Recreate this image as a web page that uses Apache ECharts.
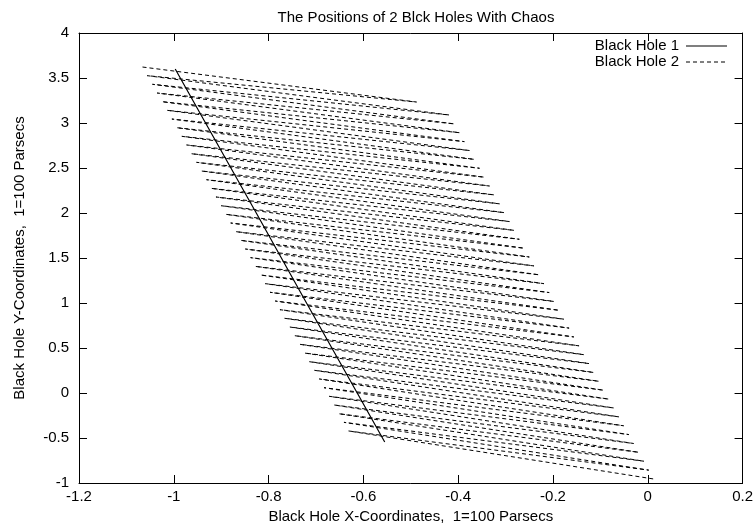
<!DOCTYPE html>
<html><head><meta charset="utf-8">
<script src="https://cdn.jsdelivr.net/npm/echarts@6/dist/echarts.min.js"></script>
<style>html,body{margin:0;padding:0;background:#fff}#c{width:756px;height:529px}</style>
</head><body><div id="c"></div>
<script>
// Black Hole 1 (solid)
const bh1X = [-0.997, -0.933, -0.826, -0.720, -0.613, -0.555];
const bh1Y = [3.600, 3.000, 2.000, 1.000, 0.000, -0.544];
// Black Hole 2 (dashed) zigzag vertices: left-edge and right-edge turning points
const bh2LeftX = [-1.066,-1.056,-1.045,-1.035,-1.025,-1.014,-1.004,-0.994,-0.983,-0.973,-0.963,-0.952,-0.942,-0.931,-0.921,-0.911,-0.900,-0.890,-0.880,-0.869,-0.859,-0.849,-0.838,-0.828,-0.817,-0.807,-0.797,-0.786,-0.776,-0.766,-0.755,-0.745,-0.734,-0.724,-0.714,-0.703,-0.693,-0.683,-0.672,-0.662,-0.652,-0.641,-0.631];
const bh2LeftY = [3.622,3.526,3.430,3.333,3.237,3.141,3.044,2.948,2.852,2.756,2.659,2.563,2.467,2.370,2.274,2.178,2.081,1.985,1.889,1.793,1.696,1.600,1.504,1.407,1.311,1.215,1.119,1.022,0.926,0.830,0.733,0.637,0.541,0.444,0.348,0.252,0.156,0.059,-0.037,-0.133,-0.230,-0.326,-0.422];
const bh2RightX = [-0.488,-0.419,-0.408,-0.397,-0.387,-0.376,-0.366,-0.355,-0.345,-0.334,-0.324,-0.313,-0.303,-0.292,-0.282,-0.271,-0.261,-0.250,-0.240,-0.229,-0.219,-0.208,-0.198,-0.187,-0.177,-0.166,-0.156,-0.145,-0.135,-0.124,-0.114,-0.103,-0.093,-0.082,-0.072,-0.061,-0.051,-0.040,-0.030,-0.019,-0.008,0.002,0.013];
const bh2RightY = [3.233,3.089,2.990,2.892,2.793,2.694,2.596,2.497,2.398,2.300,2.201,2.102,2.004,1.905,1.807,1.708,1.609,1.511,1.412,1.313,1.215,1.116,1.017,0.919,0.820,0.721,0.623,0.524,0.426,0.327,0.228,0.130,0.031,-0.068,-0.166,-0.265,-0.364,-0.462,-0.561,-0.659,-0.758,-0.857,-0.956];
const seriesNames = ['Black Hole 1', 'Black Hole 2'];
const xMin = -1.2, xMax = 0.2, xStep = 0.2;
const yMin = -1, yMax = 4, yStep = 0.5;
const titleText = 'The Positions of 2 Blck Holes With Chaos';
const xName = 'Black Hole X-Coordinates,  1=100 Parsecs';
const yName = 'Black Hole Y-Coordinates,  1=100 Parsecs';

const bh1 = bh1X.map((x, i) => [x, bh1Y[i]]);
const bh2 = [];
for (let i = 0; i < bh2LeftX.length; i++) {
  bh2.push([bh2LeftX[i], bh2LeftY[i]]);
  bh2.push([bh2RightX[i], bh2RightY[i]]);
}

const FONT = 'Liberation Sans, Arial, sans-serif';
const FS = 15;
const axisCommon = {
  type: 'value',
  axisLine: { show: true, onZero: false, lineStyle: { color: '#000', width: 1 } },
  axisTick: { show: true, inside: true, length: 8, lineStyle: { color: '#000' } },
  splitLine: { show: false },
};
const lineStyles = [
  { stroke: '#000', lineWidth: 1.2 },
  { stroke: '#000', lineWidth: 1, lineDash: [4, 3] }
];
const legendGraphics = [];
seriesNames.forEach((n, i) => {
  const y = 46 + i * 16;
  legendGraphics.push({ type: 'text', silent: true, style: { text: n, x: 679, y: y, textAlign: 'right', textVerticalAlign: 'middle', font: FS + 'px ' + FONT, fill: '#000' } });
  legendGraphics.push({ type: 'line', silent: true, shape: { x1: 686, y1: y, x2: 727, y2: y }, style: lineStyles[i] });
});

const chart = echarts.init(document.getElementById('c'), null, { renderer: 'canvas' });
chart.setOption({
  animation: false,
  backgroundColor: '#fff',
  title: {
    text: titleText, left: 411, top: 5, textAlign: 'center',
    textStyle: { fontFamily: FONT, fontSize: FS, fontWeight: 'normal', color: '#000' }
  },
  graphic: legendGraphics,
  grid: { left: 79, right: 12, top: 33, bottom: 46 },
  xAxis: [
    Object.assign({}, axisCommon, {
      min: xMin, max: xMax, interval: xStep, position: 'bottom',
      axisLabel: { color: '#000', fontFamily: FONT, fontSize: FS, margin: 6 },
      name: xName, nameLocation: 'middle', nameGap: 23,
      nameTextStyle: { color: '#000', fontFamily: FONT, fontSize: FS }
    }),
    Object.assign({}, axisCommon, {
      min: xMin, max: xMax, interval: xStep, position: 'top',
      axisLabel: { show: false }
    })
  ],
  yAxis: [
    Object.assign({}, axisCommon, {
      min: yMin, max: yMax, interval: yStep, position: 'left',
      axisLabel: { color: '#000', fontFamily: FONT, fontSize: FS, margin: 10 },
      name: yName, nameLocation: 'middle', nameGap: 52, nameRotate: 90,
      nameTextStyle: { color: '#000', fontFamily: FONT, fontSize: FS }
    }),
    Object.assign({}, axisCommon, {
      min: yMin, max: yMax, interval: yStep, position: 'right',
      axisLabel: { show: false }
    })
  ],
  series: [
    { name: seriesNames[0], type: 'line', data: bh1, symbol: 'none', xAxisIndex: 0, yAxisIndex: 0,
      lineStyle: { color: '#000', width: 1.2, type: 'solid' }, itemStyle: { color: '#000' } },
    { name: seriesNames[1], type: 'line', data: bh2, symbol: 'none', xAxisIndex: 0, yAxisIndex: 0,
      lineStyle: { color: '#000', width: 1, type: [4, 3] }, itemStyle: { color: '#000' } }
  ]
});
</script></body></html>
